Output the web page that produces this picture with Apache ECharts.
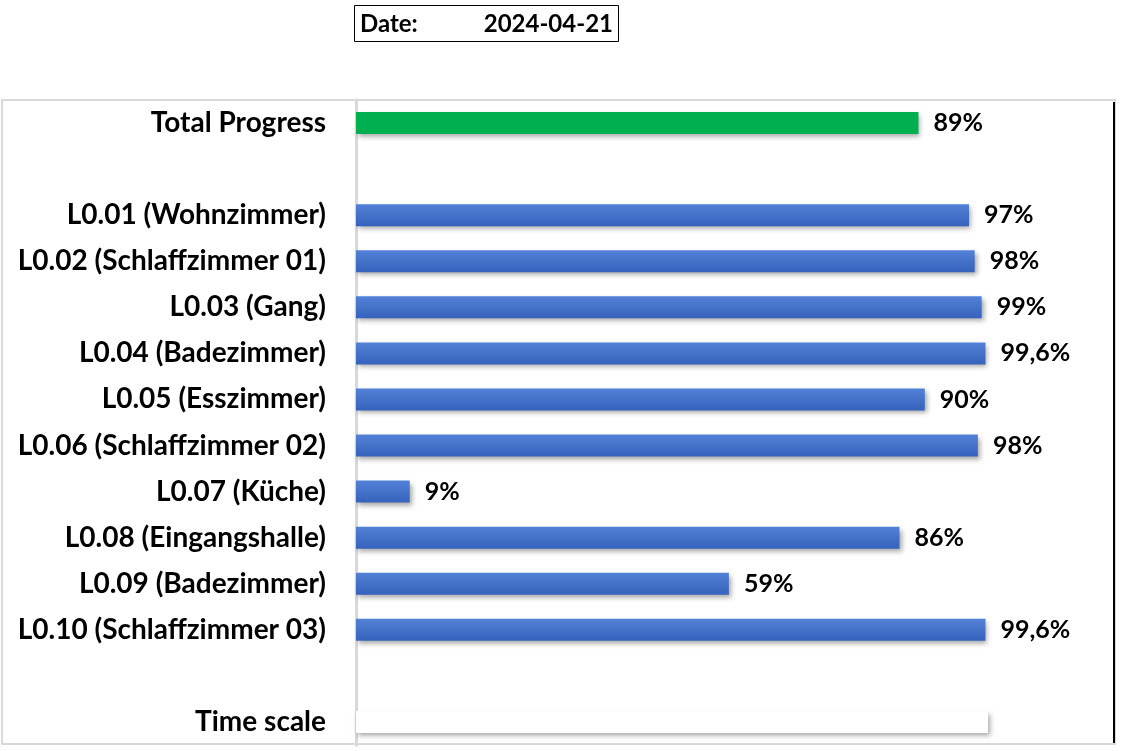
<!DOCTYPE html>
<html>
<head>
<meta charset="utf-8">
<script src="https://cdn.jsdelivr.net/npm/echarts@6/dist/echarts.min.js"></script>
<style>
html,body{margin:0;padding:0;background:#fff;}
#chart{width:1122px;height:751px;}
</style>
</head>
<body>
<div id="chart"></div>
<script>
var categories = ['Total Progress', '', 'L0.01 (Wohnzimmer)', 'L0.02 (Schlaffzimmer 01)', 'L0.03 (Gang)', 'L0.04 (Badezimmer)', 'L0.05 (Esszimmer)', 'L0.06 (Schlaffzimmer 02)', 'L0.07 (Küche)', 'L0.08 (Eingangshalle)', 'L0.09 (Badezimmer)', 'L0.10 (Schlaffzimmer 03)', ' ', 'Time scale'];
var values = [89, null, 97, 97.9, 99, 99.6, 90, 98.4, 8.5, 86, 59, 99.6, null, 100];
var valueLabels = ['89%', '', '97%', '98%', '99%', '99,6%', '90%', '98%', '9%', '86%', '59%', '99,6%', '', ''];
var dateLabel = 'Date:';
var dateValue = '2024-04-21';

var FONT = 'Lato, "Open Sans", sans-serif';
var blueGrad = new echarts.graphic.LinearGradient(0, 0, 0, 1, [
  {offset: 0, color: '#5282d8'},
  {offset: 0.5, color: '#4472c8'},
  {offset: 1, color: '#3562bd'}
]);

var data = values.map(function (v, i) {
  var color = blueGrad;
  if (categories[i] === 'Total Progress') color = '#00b050';
  if (categories[i] === 'Time scale') color = '#ffffff';
  return {
    value: v,
    itemStyle: {
      color: color,
      shadowColor: 'rgba(0,0,0,0.35)',
      shadowBlur: 5,
      shadowOffsetX: 2,
      shadowOffsetY: 3
    },
    label: {formatter: valueLabels[i]}
  };
});

var chart = echarts.init(document.getElementById('chart'), null, {renderer: 'canvas'});
chart.setOption({
  animation: false,
  backgroundColor: '#ffffff',
  grid: {left: 356, right: 134, top: 100, bottom: 6, containLabel: false},
  xAxis: {
    type: 'value', min: 0, max: 100,
    show: false
  },
  yAxis: {
    type: 'category',
    inverse: true,
    data: categories,
    axisTick: {show: false},
    axisLine: {show: true, lineStyle: {color: '#d9d9d9', width: 3}},
    axisLabel: {
      margin: 30,
      color: '#000',
      fontFamily: FONT,
      fontWeight: 'bold',
      fontSize: 28
    },
    splitLine: {show: false}
  },
  series: [{
    type: 'bar',
    barWidth: 22,
    data: data,
    label: {
      show: true,
      position: 'right',
      distance: 15,
      color: '#000',
      fontFamily: FONT,
      fontWeight: 'bold',
      fontSize: 25
    }
  }],
  graphic: [
    {type: 'rect', silent: true, z: -1,
      shape: {x: 2, y: 100, width: 1113, height: 644},
      style: {fill: 'none', stroke: '#d9d9d9', lineWidth: 2}},
    {type: 'line', silent: true,
      shape: {x1: 1114, y1: 102, x2: 1114, y2: 743},
      style: {stroke: '#000', lineWidth: 2}},
    {type: 'rect', silent: true,
      shape: {x: 354.5, y: 5.5, width: 264, height: 36},
      style: {fill: '#fff', stroke: '#000', lineWidth: 1}},
    {type: 'text', silent: true, x: 360, y: 24,
      style: {text: dateLabel, font: 'bold 24px ' + FONT, fill: '#000', verticalAlign: 'middle', align: 'left'}},
    {type: 'text', silent: true, x: 613, y: 24,
      style: {text: dateValue, font: 'bold 24px ' + FONT, fill: '#000', verticalAlign: 'middle', align: 'right'}}
  ]
});
</script>
</body>
</html>
